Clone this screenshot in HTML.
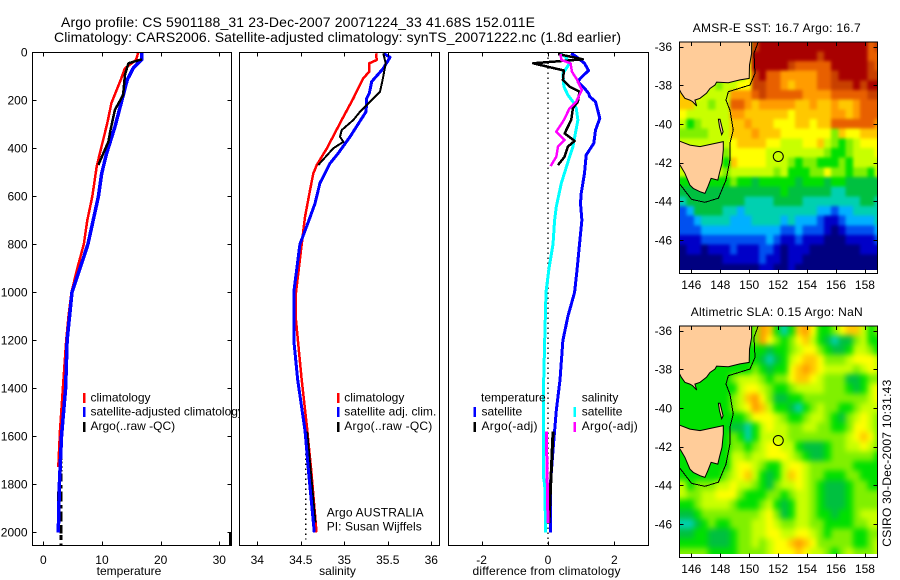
<!DOCTYPE html>
<html lang="en">
<head>
<meta charset="utf-8">
<title>Argo profile chart</title>
<style>
html,body{margin:0;padding:0;background:#fff;}
svg{display:block;}
text{font-family:"Liberation Sans",sans-serif;font-size:12px;fill:#000;}
.title{font-size:14px;}
.mid{text-anchor:middle;}
.end{text-anchor:end;}
polyline{fill:none;stroke-linejoin:round;shape-rendering:crispEdges;}
.frame{fill:none;stroke:#000;stroke-width:1;shape-rendering:crispEdges;}
</style>
</head>
<body>
<svg id="chart" xmlns="http://www.w3.org/2000/svg" width="900" height="580" viewBox="0 0 900 580">
<defs>
<filter id="soft-sst" filterUnits="userSpaceOnUse" x="660" y="20" width="240" height="280" color-interpolation-filters="sRGB">
<feGaussianBlur stdDeviation="1.6"/>
<feComponentTransfer><feFuncA type="linear" slope="60"/></feComponentTransfer>
</filter>
<filter id="soft-sla" filterUnits="userSpaceOnUse" x="660" y="305" width="240" height="275" color-interpolation-filters="sRGB">
<feGaussianBlur stdDeviation="3"/>
<feComponentTransfer><feFuncA type="linear" slope="60"/></feComponentTransfer>
</filter>
</defs>
<rect x="0" y="0" width="900" height="580" fill="#fff"/>
<text class="title" x="61" y="27" textLength="474">Argo profile: CS 5901188_31 23-Dec-2007 20071224_33 41.68S 152.011E</text>
<text class="title" x="54" y="42" textLength="567">Climatology: CARS2006. Satellite-adjusted climatology: synTS_20071222.nc (1.8d earlier)</text>

<g id="p1"></g>
<g>
<rect x="83" y="393" width="2.5" height="10" fill="#f00"/>
<rect x="83" y="407" width="2.5" height="10" fill="#00f"/>
<rect x="83" y="422" width="2.5" height="10" fill="#000"/>
<text x="90.5" y="401.7">climatology</text>
<text x="90.5" y="415.7">satellite-adjusted climatology</text>
<text x="90.5" y="430">Argo(..raw -QC)</text>
</g>
<text class="mid" x="129" y="575">temperature</text>

<rect x="239.5" y="48" width="208" height="500" fill="#fff"/>
<g id="p2"></g>
<g>
<rect x="337" y="393" width="2.5" height="10" fill="#f00"/>
<rect x="337" y="407" width="2.5" height="10" fill="#00f"/>
<rect x="337" y="422" width="2.5" height="10" fill="#000"/>
<text x="344.3" y="401.7">climatology</text>
<text x="344.3" y="415.7" textLength="92">satellite adj. clim.</text>
<text x="344.3" y="430" textLength="88">Argo(..raw -QC)</text>
<text x="326.7" y="516.7" textLength="97">Argo AUSTRALIA</text>
<text x="326.7" y="530.7" textLength="95">PI: Susan Wijffels</text>
</g>
<text class="mid" x="337.5" y="575">salinity</text>

<g id="p3"></g>
<g>
<rect x="473.5" y="407" width="2.5" height="10" fill="#00f"/>
<rect x="473.5" y="422" width="2.5" height="10" fill="#000"/>
<rect x="573.5" y="407" width="2.5" height="10" fill="#0ff"/>
<rect x="573.5" y="422" width="2.5" height="10" fill="#f0f"/>
<text x="481" y="401.7">temperature</text>
<text x="481.5" y="415.7">satellite</text>
<text x="481.5" y="430" textLength="56">Argo(-adj)</text>
<text x="581.7" y="401.7">salinity</text>
<text x="581.7" y="415.7">satellite</text>
<text x="581.7" y="430" textLength="56">Argo(-adj)</text>
</g>
<text class="mid" x="546.5" y="575" textLength="148">difference from climatology</text>

<g id="m1"></g>
<g id="m2"></g>
<text class="mid" x="776.7" y="32" textLength="168">AMSR-E SST: 16.7 Argo: 16.7</text>
<text class="mid" x="776.7" y="316" textLength="172">Altimetric SLA: 0.15 Argo: NaN</text>
<text transform="translate(891,546.7) rotate(-90)" textLength="167">CSIRO 30-Dec-2007 10:31:43</text>
</svg>

<script>
// ---------- profile data ----------
const tempClimDepth = [0,32,67,115,212,295,420,476,601,700,800,900,1000,1100,1200,1380,1575,1728];
const tempClimValue = [16.2,15.8,13.9,13.2,11.6,10.9,9.65,9.1,8.35,7.5,6.9,5.8,4.8,4.3,3.9,3.4,2.85,2.56];
const tempSatDepth = [0,29,67,115,200,311,420,504,601,800,1000,1200,1400,1600,1800,2000];
const tempSatValue = [16.8,16.8,15.3,14.3,13.4,12.2,10.8,9.95,9.4,7.6,4.9,4.05,3.8,3.1,2.75,2.55];
const tempArgoDepth = [29,46,95,178,240,330,372,469];
const tempArgoValue = [16.8,14.5,13.9,13.6,12.2,11.4,11.1,9.4];
const tempDeepValue = 3.02;
const tempDeepTop = [1588,1706,1724,1740,1754,1803,1831,1886,1914,1970,2011,2046];
const tempDeepBottom = [1699,1713,1733,1747,1789,1817,1872,1900,1956,2004,2032,2054];
const tempLowValue = 2.4;
const tempLowTop = [1831];
const tempLowBottom = [1963];
const tempOutlierValue = 31.8;
const tempOutlierTop = [2000];
const tempOutlierBottom = [2054];

const salClimDepth = [4,32,46,81,108,192,282,400,470,505,575,686,800,1000,1100,1365,1560,1740,2000];
const salClimValue = [35.364,35.372,35.287,35.287,35.218,35.103,34.97,34.8,34.683,34.644,34.606,34.548,34.51,34.445,34.44,34.51,34.57,34.62,34.68];
const salSatDepth = [4,21,67,122,171,192,247,352,421,463,546,630,699,800,1000,1200,1365,1575,1768,2000];
const salSatValue = [35.448,35.525,35.448,35.315,35.287,35.257,35.25,35.066,34.93,34.836,34.72,34.663,34.594,34.49,34.42,34.42,34.464,34.548,34.594,34.655];
const salArgoDepth = [4,46,115,164,213,248,282,324,352,373,400,470];
const salArgoValue = [35.448,35.476,35.44,35.41,35.276,35.18,35.103,34.97,34.95,34.99,34.874,34.70];
const salDeepDepth = [1580,1960];
const salDeepValue = [34.57,34.665];
const salDotDepth = [1650,2030];
const salDotValue = [34.556,34.556];

const diffTSatDepth = [4,18,46,76,108,122,150,171,185,206,275,324,379,428,504,588,630,699,800,900,1000,1100,1200,1365,1492,1658,1783,2000];
const diffTSatValue = [.70,.85,1.10,1.22,.98,.90,1.10,1.22,1.26,1.43,1.56,1.43,1.38,1.15,1.10,1.0,.98,1.02,.95,.88,.8,.6,.45,.36,.25,.15,.08,.07];
const diffSSatDepth = [4,18,46,88,143,178,206,233,282,393,435,546,643,699,800,900,1000,1200,1365,1768,1800,2000];
const diffSSatValue = [.35,.52,.65,.45,.48,.60,.75,.85,.90,.75,.65,.40,.25,.20,.15,.03,-.06,-.1,-.13,-.14,-.1,-.07];
const diffTArgoDepth = [7,29,46,76,115,143,164,206,233,282,338,369,393,435,470];
const diffTArgoValue = [.3,1.05,-.45,.48,.45,.65,.95,.9,.75,.70,.5,.8,.6,.5,.3];
const diffSArgoDepth = [7,32,46,81,108,157,206,233,282,331,365,393,435,474];
const diffSArgoValue = [.38,.40,.68,.72,.85,1.02,.85,.65,.48,.25,.5,.3,.25,.08];
const diffTDeepDepth = [1581,1962];
const diffTDeepValue = [.15,.03];
const diffSDeepDepth = [1581,1962];
const diffSDeepValue = [-.05,0];

const depthTicks = [0,200,400,600,800,1000,1200,1400,1600,1800,2000];
const tempTicks = [0,10,20,30];
const salTicks = [34,34.5,35,35.5,36];
const diffTicks = [-2,0,2];
const lonTicks = [146,148,150,152,154,156,158];
const latTicks = [-36,-38,-40,-42,-44,-46];

// ---------- map data: colour-scale levels on a 0.5 degree grid, rows north to south ----------
const gridLon0 = 145.17;
const gridLat0 = -35.74;
const gridStep = 0.5;
const colourLevels = ['#000080','#0000c8','#0050f0','#00b0ff','#00d0b0','#00c040','#00e000','#80f000','#c8ff00','#ffff00','#ffc800','#ff9c00','#e86000','#c84000','#a80000'];
const sstLevels = [
[7,7,7,7,7,7,7,7,7,7,13,14,14,14,14,14,14,14,14,14,14,14,14,14,14,14,12,13],
[7,7,7,7,7,7,7,7,7,9,14,14,14,14,14,14,14,14,14,13,14,14,14,14,14,14,12,12],
[7,7,7,7,7,7,7,7,7,9,14,14,14,14,14,13,12,12,12,12,12,14,14,14,14,14,13,12],
[7,7,7,7,7,7,7,7,7,9,13,14,12,12,11,11,11,11,11,12,12,13,14,14,14,14,13,13],
[9,9,8,8,8,7,8,8,9,9,13,13,12,12,11,10,11,11,11,12,12,13,13,13,14,13,14,14],
[10,10,9,8,8,8,8,11,11,11,12,13,12,12,12,12,12,11,11,11,11,12,12,12,12,12,13,13],
[10,10,8,8,7,8,8,12,12,11,10,11,11,11,11,11,10,10,11,10,10,11,10,10,11,12,12,12],
[9,8,8,8,8,8,8,11,11,10,10,10,10,10,10,9,10,10,10,10,10,11,11,10,11,12,12,12],
[8,6,7,8,8,8,8,10,10,11,10,10,10,9,9,9,10,10,9,10,10,12,12,12,12,12,12,11],
[7,7,7,7,8,8,8,10,10,10,11,10,10,10,9,9,9,9,9,9,9,7,10,9,9,10,10,10],
[8,8,8,8,8,8,8,9,10,10,10,10,9,9,8,8,8,9,9,10,8,7,6,7,8,9,9,9],
[8,8,8,8,8,8,7,9,9,9,9,9,8,8,8,8,8,8,8,8,7,6,6,7,8,8,8,9],
[8,8,8,8,8,8,6,10,9,9,9,9,8,8,8,7,6,7,7,6,6,6,7,6,8,8,8,8],
[8,8,8,8,8,8,7,8,8,8,8,8,8,7,8,6,6,6,7,7,9,7,7,6,7,7,6,8],
[6,6,6,6,6,6,6,7,6,6,5,6,6,6,6,6,5,6,6,6,5,6,6,5,5,5,5,5],
[5,5,5,5,5,5,5,5,5,5,5,5,5,5,6,5,5,5,5,5,5,4,4,5,5,5,5,5],
[4,5,5,5,5,5,5,5,5,4,4,4,4,5,5,5,5,4,4,4,4,4,4,4,4,5,5,4],
[2,3,5,5,5,5,4,4,3,4,4,4,4,4,4,4,4,4,4,3,3,2,3,3,4,4,4,4],
[2,2,3,4,4,4,4,3,3,3,4,4,4,4,3,4,3,3,3,2,1,1,2,3,3,3,3,4],
[2,2,2,3,3,3,3,3,3,3,3,3,3,3,2,2,3,2,2,2,1,0,1,2,2,2,2,3],
[1,1,1,2,2,2,2,2,2,2,2,2,3,2,1,1,2,1,1,1,0,0,0,1,1,1,1,2],
[0,1,1,0,1,1,1,2,1,1,1,2,2,1,0,1,1,1,0,0,0,0,0,0,0,1,1,1],
[0,0,0,0,0,0,1,1,1,1,1,2,1,1,0,1,1,0,0,0,0,0,0,0,0,0,0,0],
[0,0,0,0,0,0,0,0,0,0,0,1,1,0,0,1,0,0,0,0,0,0,0,0,0,0,0,0]
];
const slaLevels = [
[6,6,6,6,6,6,6,6,6,6,7,11,10,6,4,6,10,11,9,6,6,7,9,10,10,8,6,7],
[6,6,6,6,6,6,6,6,6,6,7,11,9,7,6,7,9,10,8,6,5,4,5,5,7,8,6,6],
[6,6,6,6,6,6,6,6,6,6,6,6,5,6,6,7,8,9,9,7,6,5,5,6,8,8,7,6],
[6,6,6,6,6,6,6,6,6,6,6,5,4,5,6,8,9,10,10,9,7,7,7,8,9,9,9,8],
[6,6,6,6,6,6,6,6,6,6,7,6,5,6,6,9,10,11,10,9,8,8,8,8,7,8,9,8],
[6,6,6,6,6,6,6,7,8,8,8,7,6,7,7,9,10,10,9,8,7,7,7,5,5,6,7,7],
[6,6,6,6,6,6,6,6,8,9,9,8,7,6,6,7,8,8,8,8,7,7,7,6,5,6,8,9],
[6,6,6,6,6,6,6,7,8,10,11,9,7,5,5,6,6,7,7,7,7,7,7,7,7,7,8,9],
[6,6,6,6,6,6,6,7,8,9,11,10,8,6,6,5,4,6,7,8,7,7,6,6,7,8,8,8],
[6,6,6,6,6,6,6,6,6,7,9,9,9,8,7,6,6,7,8,8,7,6,5,7,8,9,8,7],
[6,6,6,6,6,6,6,5,5,4,6,8,9,8,8,7,7,8,8,7,7,6,6,7,9,9,8,7],
[6,6,6,6,6,6,6,7,6,4,6,8,8,8,8,7,7,7,7,7,7,7,7,8,9,10,9,7],
[6,6,6,6,6,6,6,7,7,6,7,8,9,9,8,8,6,5,5,5,6,7,7,8,8,9,8,7],
[6,6,6,6,6,6,6,8,8,7,8,8,9,9,9,8,7,6,5,5,6,7,7,7,7,7,7,6],
[6,6,6,6,6,6,6,8,9,9,8,7,6,6,8,9,9,8,7,7,7,7,7,7,6,6,6,6],
[6,6,6,6,6,6,7,8,9,10,8,6,5,6,8,10,9,8,7,7,6,6,6,7,7,6,6,6],
[8,6,7,7,7,8,8,9,8,8,7,6,5,7,8,8,9,8,7,6,5,5,5,6,7,7,6,6],
[8,7,7,8,8,9,9,9,7,6,6,6,7,7,6,7,8,8,7,6,5,5,5,6,7,7,7,7],
[6,6,7,8,8,8,8,7,6,6,6,7,8,6,5,6,8,8,7,6,5,5,5,6,7,7,7,7],
[5,5,6,7,7,7,7,7,7,7,7,8,9,7,5,6,8,8,7,6,6,5,6,6,7,8,8,8],
[4,4,5,6,7,6,6,7,7,7,8,8,9,8,7,7,8,8,7,7,6,6,6,6,7,7,8,8],
[5,5,6,6,5,5,5,6,7,7,8,8,9,9,8,8,9,9,8,7,6,7,7,7,6,6,7,7],
[6,6,6,6,5,5,5,6,7,7,8,7,8,9,9,10,11,10,9,7,7,7,7,7,6,6,7,8],
[7,7,7,7,6,6,6,6,7,7,7,7,8,9,9,9,10,9,8,8,7,6,7,8,7,7,7,8]
];
const mainlandLon = [145.0,150.17,150.17,150.02,150.0,149.36,148.56,147.75,147.64,147.29,147.06,146.6,146.25,146.37,146.09,145.9,145.56,145.3,145.17,145.0];
const mainlandLat = [-35.6,-35.6,-36.34,-36.95,-37.64,-37.72,-37.86,-37.83,-37.98,-38.16,-38.4,-38.67,-38.76,-39.07,-38.84,-38.76,-38.67,-38.4,-38.2,-38.2];
const tasmaniaLon = [145.0,145.9,146.6,148.21,148.21,148.12,147.94,147.83,147.37,147.15,146.94,146.6,146.14,145.9,145.56,145.22,145.0];
const tasmaniaLat = [-40.83,-41.09,-41.17,-40.91,-41.34,-42.03,-42.55,-42.9,-42.81,-43.24,-43.59,-43.5,-43.33,-43.16,-42.55,-42.12,-42.0];
const flindersLon = [147.87,147.98,148.2,148.1,147.95];
const flindersLat = [-39.75,-39.75,-40.4,-40.55,-40.14];
const shelfLon = [150.63,150.33,150.4,150.06,148.56,148.4,148.67,148.9,148.67,148.67,148.4,147.87,146.94,146.02,145.17];
const shelfLat = [-35.74,-36.34,-37.38,-37.98,-38.33,-38.76,-39.28,-40.31,-41,-41.86,-42.9,-43.84,-44.05,-43.9,-43.07];
const floatLon = 152.011;
const floatLat = -41.68;

// ---------- axis functions ----------
const NS = 'http://www.w3.org/2000/svg';
const yDepth = d => 52.3 + d * 0.24;
const xTemp = v => 43.3 + v * 5.867;
const xSal = v => 257.3 + (v - 34) * 87;
const xDiff = v => 548 + v * 33.2;
const xLon = v => 691.3 + (v - 146) * 14.47;
const yLat = (v, top) => top + 5 + (-36 - v) * 19.33;

function node(parent, tag, attrs, content) {
  const el = document.createElementNS(NS, tag);
  for (const k in attrs) el.setAttribute(k, attrs[k]);
  if (content !== undefined) el.textContent = content;
  parent.appendChild(el);
  return el;
}
function profile(parent, name, vals, deps, xf, color, width, dash) {
  const pts = vals.map((v, i) => xf(v).toFixed(1) + ',' + yDepth(deps[i]).toFixed(1)).join(' ');
  const attrs = {points: pts, stroke: color, 'stroke-width': width};
  if (dash) attrs['stroke-dasharray'] = dash;
  const el = node(parent, 'polyline', attrs);
  
  
  return el;
}
function segments(parent, name, value, tops, bottoms, xf, width) {
  tops.forEach((t, i) => {
    const x = xf(value);
    const el = node(parent, 'line', {x1: x, x2: x, y1: yDepth(t), y2: yDepth(bottoms[i]), stroke: '#000', 'stroke-width': width, 'shape-rendering': 'crispEdges'});
    
    
  });
}
function tickLine(parent, x1, y1, x2, y2) {
  const el = node(parent, 'line', {x1, y1, x2, y2, stroke: '#000', 'stroke-width': 1, 'shape-rendering': 'crispEdges'});
  
  
}
function panelFrame(parent, name, x0, x1, xTicks, xf, withDepth) {
  const T = 52.5, B = 545.5;
  const fr = node(parent, 'rect', {class: 'frame', x: x0, y: T, width: x1 - x0, height: B - T});
  
  
  xTicks.forEach(v => {
    const x = Math.round(xf(v)) + 0.5;
    tickLine(parent, x, T, x, T + 4);
    tickLine(parent, x, B, x, B - 4);
    const t = node(parent, 'text', {class: 'mid', x: xf(v), y: 564}, String(v));
    
    
  });
  if (withDepth) depthTicks.forEach(d => {
    const y = Math.round(yDepth(d)) + 0.5;
    tickLine(parent, x0, y, x0 + 4, y);
    tickLine(parent, x1, y, x1 - 4, y);
    const t = node(parent, 'text', {class: 'end', x: 27.5, y: yDepth(d) + 4.3}, String(d));
    
    
  });
}

// ---------- temperature panel ----------
const p1 = document.getElementById('p1');
segments(p1, 'argo-temperature-deep', tempDeepValue, tempDeepTop, tempDeepBottom, xTemp, 3);
segments(p1, 'argo-temperature-low', tempLowValue, tempLowTop, tempLowBottom, xTemp, 1);
segments(p1, 'argo-temperature-outlier', tempOutlierValue, tempOutlierTop, tempOutlierBottom, xTemp, 2);
profile(p1, 'temperature-climatology-line', tempClimValue, tempClimDepth, xTemp, '#f00', 2.5);
profile(p1, 'temperature-satellite-line', tempSatValue, tempSatDepth, xTemp, '#00f', 3.5);
profile(p1, 'temperature-argo-line', tempArgoValue, tempArgoDepth, xTemp, '#000', 2.5);
panelFrame(p1, 'temperature-panel', 32.5, 231.5, tempTicks, xTemp, true);

// ---------- salinity panel ----------
const p2 = document.getElementById('p2');
profile(p2, 'salinity-dotted-argo', salDotValue, salDotDepth, xSal, '#000', 1.5, '1.5 3.5');
profile(p2, 'salinity-climatology-line', salClimValue, salClimDepth, xSal, '#f00', 2.5);
profile(p2, 'salinity-argo-deep-line', salDeepValue, salDeepDepth, xSal, '#000', 2.5);
profile(p2, 'salinity-satellite-line', salSatValue, salSatDepth, xSal, '#00f', 3);
profile(p2, 'salinity-argo-line', salArgoValue, salArgoDepth, xSal, '#000', 2);
panelFrame(p2, 'salinity-panel', 239.5, 439.5, salTicks, xSal, false);

// ---------- difference panel ----------
const p3 = document.getElementById('p3');
const zeroLine = node(p3, 'line', {x1: xDiff(0), x2: xDiff(0), y1: 52.5, y2: 545.5, stroke: '#000', 'stroke-width': 1.3, 'stroke-dasharray': '1.5 3.5'});


profile(p3, 'difference-temperature-satellite', diffTSatValue, diffTSatDepth, xDiff, '#00f', 3);
profile(p3, 'difference-salinity-satellite', diffSSatValue, diffSSatDepth, xDiff, '#0ff', 3);
profile(p3, 'difference-temperature-argo', diffTArgoValue, diffTArgoDepth, xDiff, '#000', 2.5);
profile(p3, 'difference-salinity-argo', diffSArgoValue, diffSArgoDepth, xDiff, '#f0f', 2.5);
profile(p3, 'difference-temperature-argo-deep', diffTDeepValue, diffTDeepDepth, xDiff, '#000', 3);
profile(p3, 'difference-salinity-argo-deep', diffSDeepValue, diffSDeepDepth, xDiff, '#f0f', 3);
panelFrame(p3, 'difference-panel', 448.5, 648.5, diffTicks, xDiff, false);

// ---------- maps ----------
function landShape(parent, name, lons, lats, top) {
  const pts = lons.map((v, i) => xLon(v).toFixed(1) + ',' + yLat(lats[i], top).toFixed(1)).join(' ');
  const el = node(parent, 'polygon', {points: pts, fill: '#ffcc99', stroke: '#000', 'stroke-width': 1});
  
  
}
function drawMap(group, name, levels, top, clipId, filterId) {
  const L = 679.5, R = 877.5, H = 231.3;
  const defs = node(group, 'defs', {});
  const clip = node(defs, 'clipPath', {id: clipId});
  node(clip, 'rect', {x: L, y: top, width: R - L, height: yLat(-47.55, top) - top});
  const body = node(group, 'g', {'clip-path': 'url(#' + clipId + ')'});
  
  
  const cells = node(body, 'g', {filter: 'url(#' + filterId + ')'});
  
  
  levels.forEach((row, j) => row.forEach((v, i) => {
    const x = xLon(gridLon0 + i * gridStep);
    const y = yLat(gridLat0 - j * gridStep, top);
    const yEnd = yLat(gridLat0 - (j + 1) * gridStep, top);
    const c = node(cells, 'rect', {x: x.toFixed(2), y: y.toFixed(2), width: (gridStep * 14.47 + 0.5).toFixed(2), height: (yEnd - y + 0.5).toFixed(2), fill: colourLevels[v], 'shape-rendering': 'crispEdges'});
    
    
  }));
  landShape(body, 'mainland-australia', mainlandLon, mainlandLat, top);
  landShape(body, 'tasmania', tasmaniaLon, tasmaniaLat, top);
  landShape(body, 'flinders-island', flindersLon, flindersLat, top);
  const shelf = node(body, 'polyline', {points: shelfLon.map((v, i) => xLon(v).toFixed(1) + ',' + yLat(shelfLat[i], top).toFixed(1)).join(' '), stroke: '#000', 'stroke-width': 1});
  
  
  const marker = node(group, 'circle', {cx: xLon(floatLon), cy: yLat(floatLat, top), r: 5, fill: 'none', stroke: '#000', 'stroke-width': 1});
  
  
  const fr = node(group, 'rect', {class: 'frame', x: L, y: top + 0.5, width: R - L, height: H});
  
  
  lonTicks.forEach(v => {
    const x = Math.round(xLon(v)) + 0.5;
    tickLine(group, x, top + 0.5, x, top + 4.5);
    tickLine(group, x, top + H + 0.5, x, top + H - 3.5);
    const t = node(group, 'text', {class: 'mid', x: xLon(v), y: top + 247.5}, String(v));
    
    
  });
  latTicks.forEach(v => {
    const y = Math.round(yLat(v, top)) + 0.5;
    tickLine(group, L, y, L + 4, y);
    tickLine(group, R, y, R - 4, y);
    const t = node(group, 'text', {class: 'end', x: 672, y: yLat(v, top) + 4.3}, String(v));
    
    
  });
}
drawMap(document.getElementById('m1'), 'sst-map', sstLevels, 41.7, 'clip-sst', 'soft-sst');
drawMap(document.getElementById('m2'), 'sla-map', slaLevels, 325.7, 'clip-sla', 'soft-sla');
</script>
</body>
</html>
